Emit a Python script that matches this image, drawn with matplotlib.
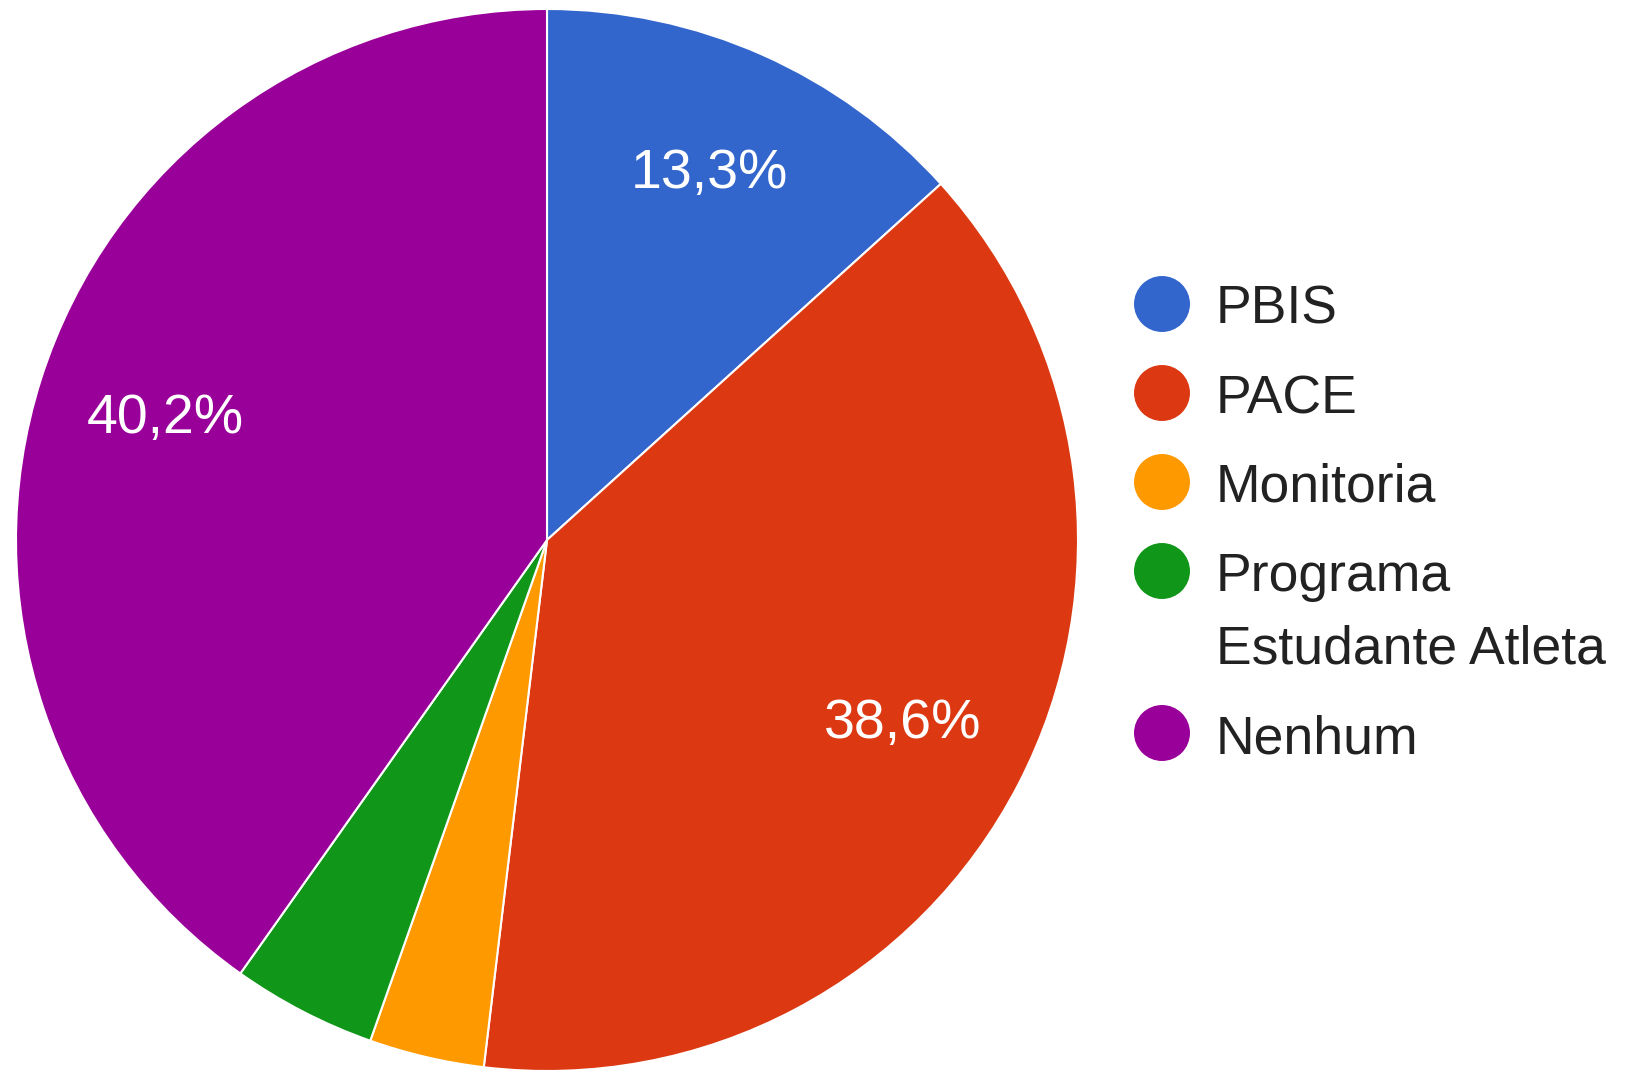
import matplotlib.pyplot as plt

plt.rcParams['font.family'] = ['Liberation Sans', 'DejaVu Sans']

labels = ["PBIS", "PACE", "Monitoria", "Programa\nEstudante Atleta", "Nenhum"]
values = [13.3, 38.6, 3.5, 4.4, 40.2]
colors = ["#3366cc", "#dc3912", "#ff9900", "#109618", "#990099"]

W, H = 1634, 1071
fig = plt.figure(figsize=(W / 100, H / 100), dpi=100)

def fmt(p):
    if p < 5:
        return ""
    return f"{p:.1f}%".replace(".", ",")

ax = fig.add_axes([16 / W, 0.0, 1062 / W, 1062 / H])
wedges, texts, autotexts = ax.pie(values, colors=colors, startangle=90, counterclock=False,
                                  autopct=fmt, pctdistance=0.755, radius=1.0,
                                  wedgeprops=dict(edgecolor="white", linewidth=1.5),
                                  textprops=dict(color="white", fontsize=40))
ax.set_xlim(-1.0, 1.0)
ax.set_ylim(-1.0, 1.0)
ax.set_aspect("equal")
ax.axis("off")

# legend drawn in pixel coordinates
lg = fig.add_axes([0, 0, 1, 1], zorder=-1)
lg.set_xlim(0, W)
lg.set_ylim(H, 0)
lg.axis("off")
y = 304
for lab, c in zip(labels, colors):
    lg.scatter([1162], [y], s=1624, color=c, edgecolors="none")
    lines = lab.split("\n")
    for i, line in enumerate(lines):
        lg.text(1216, y + 20 + 73 * i, line, fontsize=38.5, color="#222222", va="baseline", ha="left")
    y += 89 + 73 * (len(lines) - 1)

fig.savefig("out.png", dpi=100, facecolor="white")
